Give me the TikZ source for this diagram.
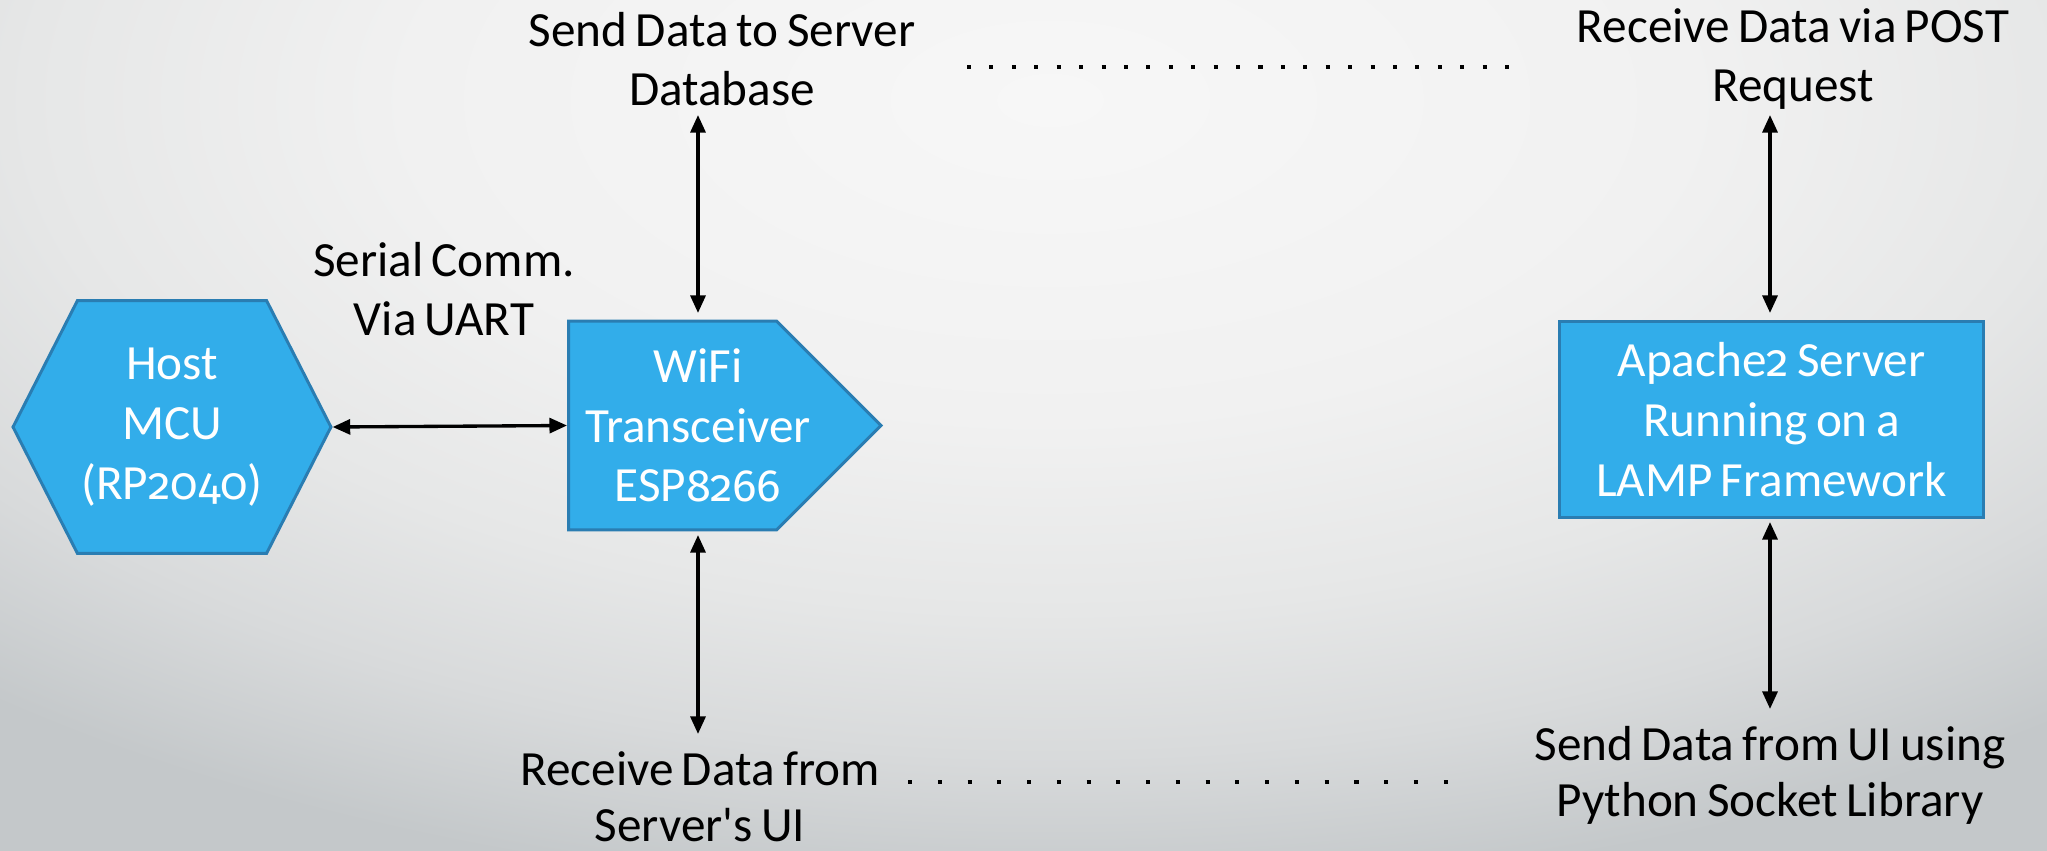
\documentclass[tikz,border=0pt]{standalone}
\usepackage{fontspec}
\setmainfont{Carlito}[WordSpace=0.75]
\newfontfamily\oldnums{Fira Sans}[Numbers=OldStyle, Scale=0.92]
\usetikzlibrary{arrows.meta, positioning, calc, shapes.symbols}
\definecolor{SkyFill}{HTML}{32ADEA}
\definecolor{SkyEdge}{HTML}{2A7DB2}
\definecolor{BgHi}{HTML}{F7F7F7}
\definecolor{BgSoft}{HTML}{F1F1F1}
\definecolor{BgMid}{HTML}{E6E7E7}
\definecolor{BgDim}{HTML}{D8DADB}
\definecolor{BgLo}{HTML}{C4C8CA}
\pgfdeclareradialshading{bgglow}{\pgfpoint{0bp}{0bp}}{color(0bp)=(BgHi); color(10bp)=(BgSoft); color(16bp)=(BgMid); color(20.5bp)=(BgDim); color(25bp)=(BgLo); color(50bp)=(BgLo)}
\newcommand{\labelfont}{\fontsize{28}{34}\selectfont}
\newcommand{\lowfont}{\fontsize{28}{32}\selectfont}
\newcommand{\osf}[1]{{\oldnums #1}}

\begin{document}
\begin{tikzpicture}[x=0.02cm, y=-0.02cm,
    blockbox/.style={fill=SkyFill, draw=SkyEdge, line width=1.7pt, text=white, align=center, font=\labelfont, inner sep=0pt},
    boxtext/.style={text=white, align=center, font=\labelfont, inner sep=0pt},
    note/.style={align=center, font=\labelfont, inner sep=0pt},
    link/.style={{Triangle[length=10pt,width=8.5pt]}-{Triangle[length=10pt,width=8.5pt]}, line width=1.9pt},
    dotrow/.style={line width=2.3pt}]
    % Background
    \fill[BgLo] (0,0) rectangle (2047,851);
    \begin{scope}
        \clip (0,0) rectangle (2047,851);
        \shade[shading=bgglow] (1050,100) ellipse [x radius=32cm, y radius=16cm];
    \end{scope}
    \useasboundingbox (0,0) rectangle (2047,851);

    % Blocks
    \node[blockbox, signal, signal to=west and east, signal pointer angle=126,
          minimum width=6.36cm, minimum height=5.06cm] (host) at (172,427) {Host\\MCU\\(RP\osf{2040})};
    \node[blockbox, signal, signal to=east, signal pointer angle=90,
          minimum width=6.25cm, minimum height=4.18cm] (wifi) at (672.5,425.5) {};
    \node[boxtext] (wifitext) at ([xshift=0.51cm]wifi.center) {WiFi\\Transceiver\\ESP\osf{8266}};
    \node[blockbox, minimum width=8.5cm, minimum height=3.94cm] (apache) at (1771.5,419.5) {Apache\osf{2} Server\\Running on a\\LAMP Framework};

    % Labels
    \node[note] (senddb) at (722,59) {Send Data to Server\\Database};
    \node[note] (recvpost) at (1793,59) {Receive Data via POST\\Request};
    \node[note] (serial) at (444,289) {Serial Comm.\\Via UART};
    \node[note, font=\lowfont] (recvui) at (700,797) {Receive Data from\\Server\textquotesingle s UI};
    \node[note, font=\lowfont] (sendui) at (1770,775) {Send Data from UI using\\Python Socket Library};

    % Arrow ends
    \coordinate (dbfoot) at (698,115);
    \coordinate (wifitop) at (698,313);
    \coordinate (wifibot) at (698,535);
    \coordinate (uihead) at (698,734);
    \coordinate (postfoot) at (1770,115);
    \coordinate (apachetop) at (1770,313);
    \coordinate (apachebot) at (1770,522);
    \coordinate (sockhead) at (1770,709);

    % Connectors
    \draw[link] (host.east) -- (wifi.west);
    \draw[link] (dbfoot) -- (wifitop);
    \draw[link] (wifibot) -- (uihead);
    \draw[link] (postfoot) -- (apachetop);
    \draw[link] (apachebot) -- (sockhead);

    % Dotted links between the labels
    \coordinate (topdotsL) at (967,67);
    \coordinate (topdotsR) at (1509,67);
    \coordinate (botdotsL) at (908,782);
    \coordinate (botdotsR) at (1448,782);
    \draw[dotrow, dash pattern=on 2.3pt off 10.46pt] (topdotsL) -- (topdotsR);
    \draw[dotrow, dash pattern=on 2.3pt off 14.64pt] (botdotsL) -- (botdotsR);
\end{tikzpicture}
\end{document}
